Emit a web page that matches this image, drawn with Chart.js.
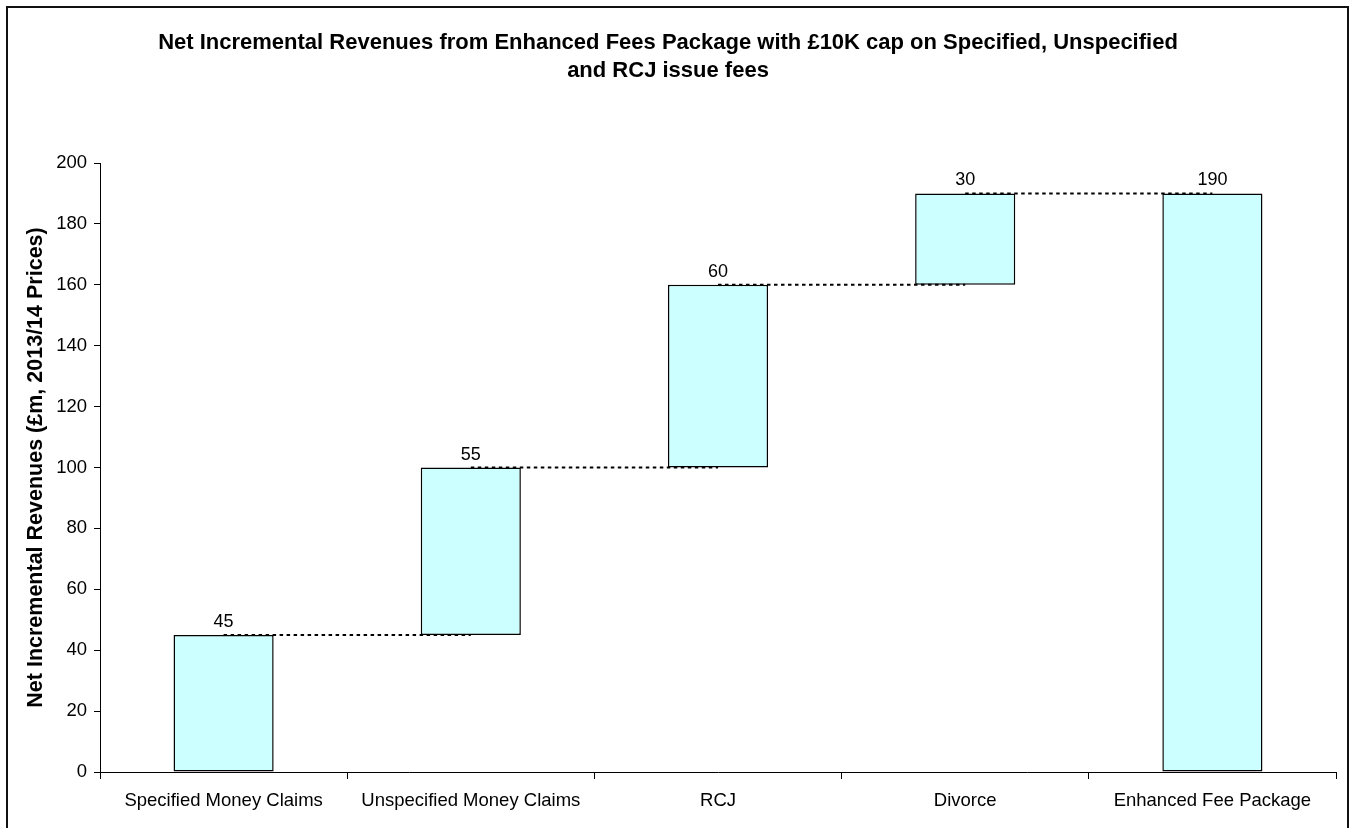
<!DOCTYPE html>
<html>
<head>
<meta charset="utf-8">
<script src="https://cdn.jsdelivr.net/npm/chart.js@4"></script>
<style>
  html, body { margin: 0; padding: 0; background: #fff; overflow: hidden; }
  #frame { position: absolute; left: 6px; top: 6px; width: 1343px; height: 840px; border: 2px solid #111; box-sizing: border-box; }
  #chart { position: absolute; left: 0; top: 0; }
</style>
</head>
<body>
<div id="frame"></div>
<canvas id="chart" width="1356" height="828"></canvas>
<script>
// waterfall data
const categories = ['Specified Money Claims', 'Unspecified Money Claims', 'RCJ', 'Divorce', 'Enhanced Fee Package'];
const barBase = [0, 45, 100, 160, 0];
const barTop = [45, 100, 160, 190, 190];
const valueLabels = ['45', '55', '60', '30', '190'];
const yTicks = { min: 0, max: 200, step: 20 };

const FONT = '"Liberation Sans", Arial, sans-serif';

// one dashed connector per step, from a bar's top to the next bar
const connectors = [];
for (let i = 0; i < categories.length - 1; i++) {
  const d = categories.map(() => null);
  d[i] = barTop[i];
  d[i + 1] = barTop[i];
  connectors.push({
    type: 'line',
    data: d,
    borderColor: '#000',
    borderWidth: 2,
    borderDash: [3.5, 3.5],
    pointRadius: 0,
    fill: false,
    spanGaps: false,
    order: 1
  });
}

// labels above each bar
const valueLabelPlugin = {
  id: 'valueLabels',
  afterDatasetsDraw(chart) {
    const ctx = chart.ctx;
    const meta = chart.getDatasetMeta(0);
    ctx.save();
    ctx.font = '18px ' + FONT;
    ctx.fillStyle = '#000';
    ctx.textAlign = 'center';
    ctx.textBaseline = 'alphabetic';
    meta.data.forEach((bar, i) => {
      const yTop = chart.scales.y.getPixelForValue(barTop[i]);
      ctx.fillText(valueLabels[i], bar.x, yTop - 8);
    });
    ctx.restore();
  }
};

new Chart(document.getElementById('chart').getContext('2d'), {
  type: 'bar',
  data: {
    labels: categories,
    datasets: [{
      label: 'Net Incremental Revenues',
      data: barBase.map((b, i) => [b, barTop[i]]),
      backgroundColor: '#CCFFFF',
      borderColor: '#000',
      borderWidth: 1.5,
      borderSkipped: false,
      categoryPercentage: 1,
      barPercentage: 0.405,
      order: 2
    }, ...connectors]
  },
  options: {
    responsive: false,
    animation: false,
    layout: { padding: { left: 0, right: 20, top: 0, bottom: 0 } },
    plugins: {
      legend: { display: false },
      tooltip: { enabled: false },
      title: {
        display: true,
        text: ['Net Incremental Revenues from Enhanced Fees Package with £10K cap on Specified, Unspecified', 'and RCJ issue fees'],
        color: '#000',
        font: { family: FONT, size: 22, weight: 'bold', lineHeight: 28 / 22 },
        padding: { top: 29, bottom: 78 }
      }
    },
    scales: {
      x: {
        afterFit(scale) { scale.height = 56; },
        grid: { offset: true, drawOnChartArea: false, drawTicks: true, tickLength: 7, color: '#000' },
        border: { color: '#000', width: 1 },
        ticks: { color: '#000', font: { family: FONT, size: 18.5 }, padding: 11, maxRotation: 0, autoSkip: false }
      },
      y: {
        min: yTicks.min,
        max: yTicks.max,
        afterFit(scale) { scale.width = 100; },
        grid: { drawOnChartArea: false, drawTicks: true, tickLength: 6, color: '#000' },
        border: { color: '#000', width: 1 },
        ticks: { stepSize: yTicks.step, color: '#000', font: { family: FONT, size: 18.5 }, padding: 7 },
        title: {
          display: true,
          text: 'Net Incremental Revenues (£m, 2013/14 Prices)',
          color: '#000',
          font: { family: FONT, size: 21.5, weight: 'bold' },
          padding: { top: 23, bottom: 0 }
        }
      }
    }
  },
  plugins: [valueLabelPlugin]
});
</script>
</body>
</html>
